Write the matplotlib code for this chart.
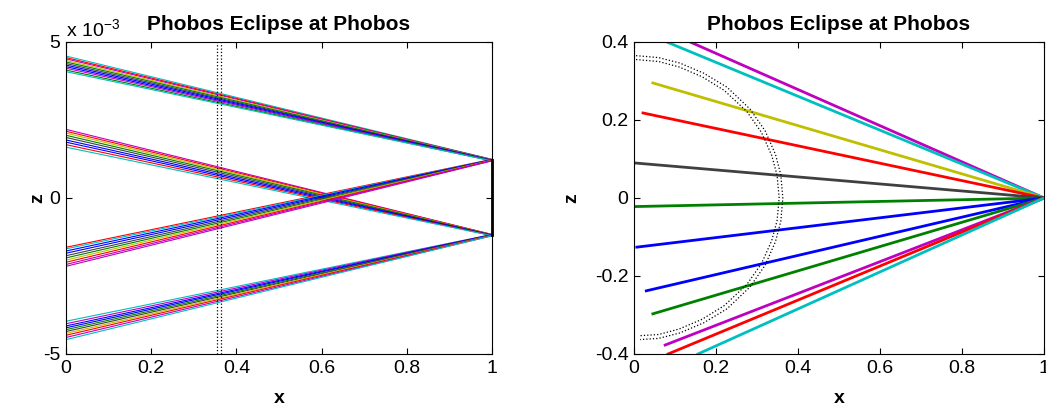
import numpy as np
import matplotlib
matplotlib.use("Agg")
import matplotlib.pyplot as plt

plt.rcParams['font.family'] = ['Liberation Sans', 'DejaVu Sans']
plt.rcParams['mathtext.default'] = 'regular'

# MATLAB classic colour order
C = {'b': (0, 0, 1), 'g': (0, 0.5, 0), 'r': (1, 0, 0), 'c': (0, 0.75, 0.75),
     'm': (0.75, 0, 0.75), 'y': (0.75, 0.75, 0), 'k': (0.25, 0.25, 0.25)}

# ---------------- left panel data (z in units of 1e-3) ----------------
top_z0 = [4.55, 4.50, 4.46, 4.41, 4.36, 4.31, 4.26, 4.21, 4.16, 4.10, 4.05]
top_z1 = [1.24, 1.23, 1.23, 1.22, 1.22, 1.21, 1.21, 1.20, 1.20, 1.19, 1.19]
top_col = ['c', 'r', 'm', 'y', 'g', 'k', 'b', 'b', 'm', 'g', 'c']

mid_z0 = [2.20, 2.14, 2.08, 2.01, 1.94, 1.86, 1.79, 1.71, 1.63]
mid_z1 = [-1.17, -1.17, -1.18, -1.18, -1.19, -1.19, -1.20, -1.20, -1.21]
mid_col = ['m', 'r', 'y', 'g', 'k', 'b', 'b', 'r', 'c']

low_z0 = [-1.58, -1.63, -1.70, -1.77, -1.85, -1.92, -1.99, -2.06, -2.13, -2.19]
low_z1 = [1.24, 1.23, 1.23, 1.22, 1.22, 1.21, 1.21, 1.20, 1.20, 1.19]
low_col = ['r', 'c', 'b', 'b', 'k', 'g', 'y', 'r', 'm', 'm']

bot_z0 = [-3.95, -4.03, -4.10, -4.16, -4.22, -4.28, -4.34, -4.40, -4.47, -4.54]
bot_z1 = [-1.17, -1.17, -1.18, -1.18, -1.19, -1.19, -1.20, -1.20, -1.21, -1.21]
bot_col = ['c', 'm', 'b', 'b', 'g', 'k', 'y', 'r', 'm', 'c']

shadow_x = [0.354, 0.363]
edge_z = [-1.19, 1.22]

# ---------------- right panel data ----------------
ray_x0 = [0.137, 0.080, 0.046, 0.022, 0.000, 0.000, 0.007, 0.030, 0.046, 0.076, 0.083, 0.156]
ray_z0 = [0.400, 0.400, 0.295, 0.218, 0.090, -0.022, -0.126, -0.238, -0.297, -0.377, -0.400, -0.400]
ray_col = ['m', 'c', 'y', 'r', 'k', 'g', 'b', 'b', 'g', 'm', 'r', 'c']
ray_end = (1.0, 0.0)

arc_out_x = [0.005, 0.06, 0.112, 0.17, 0.227, 0.283, 0.320, 0.345, 0.358, 0.363,
             0.358, 0.345, 0.320, 0.283, 0.227, 0.17, 0.112, 0.06, 0.015]
arc_out_z = [0.365, 0.360, 0.346, 0.320, 0.284, 0.228, 0.172, 0.112, 0.060, 0.0,
             -0.060, -0.112, -0.172, -0.228, -0.284, -0.320, -0.346, -0.360, -0.363]
arc_in_x = [0.005, 0.06, 0.110, 0.166, 0.220, 0.275, 0.311, 0.336, 0.349, 0.354,
            0.349, 0.336, 0.311, 0.275, 0.220, 0.166, 0.110, 0.06, 0.015]
arc_in_z = [0.355, 0.350, 0.336, 0.311, 0.276, 0.222, 0.168, 0.109, 0.058, 0.0,
            -0.058, -0.109, -0.168, -0.222, -0.276, -0.311, -0.336, -0.350, -0.353]

FS = 14
fig = plt.figure(figsize=(10.46, 4.12), dpi=100)
axL = fig.add_axes([66/1046, 1-354/412, 426/1046, 312/412])
axR = fig.add_axes([634/1046, 1-354/412, 410/1046, 312/412])

def style(ax):
    ax.tick_params(direction='in', top=True, right=True, length=4, width=0.8,
                   labelsize=FS, pad=4)
    for s in ax.spines.values():
        s.set_linewidth(0.8)
    ax.set_title('Phobos Eclipse at Phobos', fontsize=15, fontweight='bold', pad=9)

# left
for z0s, z1s, cols in [(top_z0, top_z1, top_col), (mid_z0, mid_z1, mid_col),
                       (low_z0, low_z1, low_col), (bot_z0, bot_z1, bot_col)]:
    for z0, z1, c in zip(z0s, z1s, cols):
        axL.plot([0, 1], [z0 * 1e-3, z1 * 1e-3], color=C[c], lw=0.8)
for sx in shadow_x:
    axL.plot([sx, sx], [-5e-3, 5e-3], color='black', ls=':', lw=0.9)
axL.plot([1, 1], [edge_z[0] * 1e-3, edge_z[1] * 1e-3], color='black', lw=2, clip_on=False)
axL.set_xlim(0, 1)
axL.set_ylim(-5e-3, 5e-3)
axL.set_xticks([0, 0.2, 0.4, 0.6, 0.8, 1.0])
axL.set_xticklabels(['0', '0.2', '0.4', '0.6', '0.8', '1'])
axL.set_yticks([-5e-3, 0, 5e-3])
axL.set_yticklabels(['-5', '0', '5'])
style(axL)
axL.text(0.0, 1.005, r'x 10$^{-3}$', transform=axL.transAxes, ha='left', va='bottom', fontsize=FS)
axL.set_xlabel('x', fontsize=FS, fontweight='bold')
axL.set_ylabel('z', fontsize=FS, fontweight='bold')
axL.xaxis.set_label_coords(0.5, -0.115)
axL.yaxis.set_label_coords(-0.047, 0.5)

# right
for x0, z0, c in zip(ray_x0, ray_z0, ray_col):
    axR.plot([x0, ray_end[0]], [z0, ray_end[1]], color=C[c], lw=2)
axR.plot(arc_out_x, arc_out_z, color='black', ls=':', lw=0.9)
axR.plot(arc_in_x, arc_in_z, color='black', ls=':', lw=0.9)
axR.set_xlim(0, 1)
axR.set_ylim(-0.4, 0.4)
axR.set_xticks([0, 0.2, 0.4, 0.6, 0.8, 1.0])
axR.set_xticklabels(['0', '0.2', '0.4', '0.6', '0.8', '1'])
axR.set_yticks([-0.4, -0.2, 0, 0.2, 0.4])
axR.set_yticklabels(['-0.4', '-0.2', '0', '0.2', '0.4'])
style(axR)
axR.set_xlabel('x', fontsize=FS, fontweight='bold')
axR.set_ylabel('z', fontsize=FS, fontweight='bold')
axR.xaxis.set_label_coords(0.5, -0.115)
axR.yaxis.set_label_coords(-0.132, 0.5)

fig.savefig('out.png', dpi=100)
